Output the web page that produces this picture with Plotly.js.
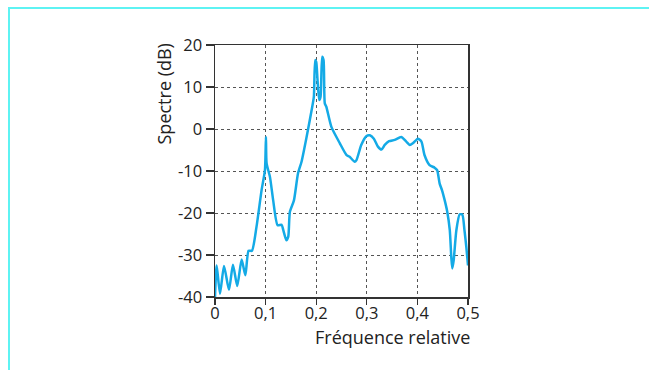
<!DOCTYPE html>
<html><head><meta charset="utf-8">
<script src="https://cdn.plot.ly/plotly-3.0.1.min.js"></script>
<style>
html,body{margin:0;padding:0;background:#fff;}
#frame{position:absolute;left:8px;top:7px;width:650px;height:370px;border-top:2px solid #5ef3f3;border-left:2px solid #5ef3f3;}
#chart{position:absolute;left:0;top:0;width:649px;height:370px;}
</style>
</head><body>
<div id="frame"></div>
<div id="chart"></div>
<script>
const freq = [0, 0.0033, 0.0099, 0.0178, 0.0276, 0.0355, 0.044, 0.0526, 0.06, 0.0664, 0.073, 0.082, 0.092, 0.0987, 0.1007, 0.102, 0.1086, 0.115, 0.1237, 0.1316, 0.135, 0.141, 0.1447, 0.148, 0.156, 0.164, 0.171, 0.181, 0.191, 0.1954, 0.198, 0.2, 0.2026, 0.206, 0.2086, 0.2118, 0.2145, 0.217, 0.22, 0.23, 0.2467, 0.26, 0.266, 0.276, 0.2796, 0.289, 0.299, 0.306, 0.314, 0.322, 0.329, 0.3355, 0.344, 0.355, 0.368, 0.378, 0.385, 0.391, 0.401, 0.408, 0.414, 0.424, 0.434, 0.439, 0.444, 0.4487, 0.454, 0.459, 0.464, 0.467, 0.469, 0.4717, 0.477, 0.4836, 0.4888, 0.493, 0.4967, 0.5];
const spectre = [-40, -32.5, -39.2, -32.6, -38.3, -32.3, -37.4, -31.1, -34.8, -29.0, -29.0, -23.3, -14.6, -9.8, -1.9, -8.2, -11.4, -17, -22.9, -22.8, -24.1, -26.5, -25.7, -19.7, -17, -10.6, -7.8, -1.9, 4.5, 7.7, 16.4, 16, 11.7, 6.9, 7.7, 17.2, 16.4, 6.1, 5.3, 0.5, -3.4, -6.2, -6.6, -7.8, -7.4, -3.8, -1.7, -1.5, -2.3, -4.2, -4.9, -3.8, -2.9, -2.6, -1.9, -3.0, -3.8, -3.4, -2.3, -3.0, -6.2, -8.6, -9.2, -9.8, -13, -14.6, -17, -19.7, -24.1, -30.5, -33.2, -31.3, -24.1, -20.3, -20.4, -24.1, -28.1, -32.5];
const xTickVals = [0, 0.1, 0.2, 0.3, 0.4, 0.5];
const xTickText = ['0', '0,1', '0,2', '0,3', '0,4', '0,5'];
const yTickVals = [-40, -30, -20, -10, 0, 10, 20];
const yTickText = ['-40', '-30', '-20', '-10', '0', '10', '20'];
const xTitle = 'Fréquence relative';
const yTitle = 'Spectre (dB)';

const font = {family: 'Open Sans, DejaVu Sans, sans-serif', size: 16.5, color: '#222'};
const titleFont = {family: 'Open Sans, DejaVu Sans, sans-serif', size: 18, color: '#222'};
const axisCommon = {
  showline: true, mirror: true, linecolor: '#333', linewidth: 1.5,
  ticks: 'outside', tickwidth: 1.2, tickcolor: '#333',
  showgrid: true, gridcolor: '#555', griddash: 'dot', gridwidth: 1,
  zeroline: false, tickfont: font, tickmode: 'array', fixedrange: true
};
Plotly.newPlot('chart', [{
  x: freq, y: spectre, type: 'scatter', mode: 'lines',
  line: {color: '#14aae6', width: 2.5, shape: 'spline', smoothing: 0.6},
  hoverinfo: 'skip'
}], {
  width: 649, height: 370,
  margin: {l: 215, r: 181, t: 45, b: 73},
  paper_bgcolor: 'rgba(0,0,0,0)', plot_bgcolor: 'rgba(0,0,0,0)',
  showlegend: false,
  xaxis: Object.assign({}, axisCommon, {range: [0, 0.5], ticklen: 6, tickvals: xTickVals, ticktext: xTickText, ticklabelstandoff: -5}),
  yaxis: Object.assign({}, axisCommon, {range: [-40, 20], ticklen: 8, tickvals: yTickVals, ticktext: yTickText, ticklabelstandoff: 0}),
  annotations: [
    {text: xTitle, xref: 'paper', yref: 'paper', x: 1, y: 0, xanchor: 'right', yanchor: 'top', xshift: 4, yshift: -26, showarrow: false, font: titleFont},
    {text: yTitle, xref: 'paper', yref: 'paper', x: 0, y: 1, xanchor: 'right', yanchor: 'top', xshift: -38, yshift: 3, textangle: -90, showarrow: false, font: titleFont}
  ]
}, {displayModeBar: false, staticPlot: true});
</script>
</body></html>
